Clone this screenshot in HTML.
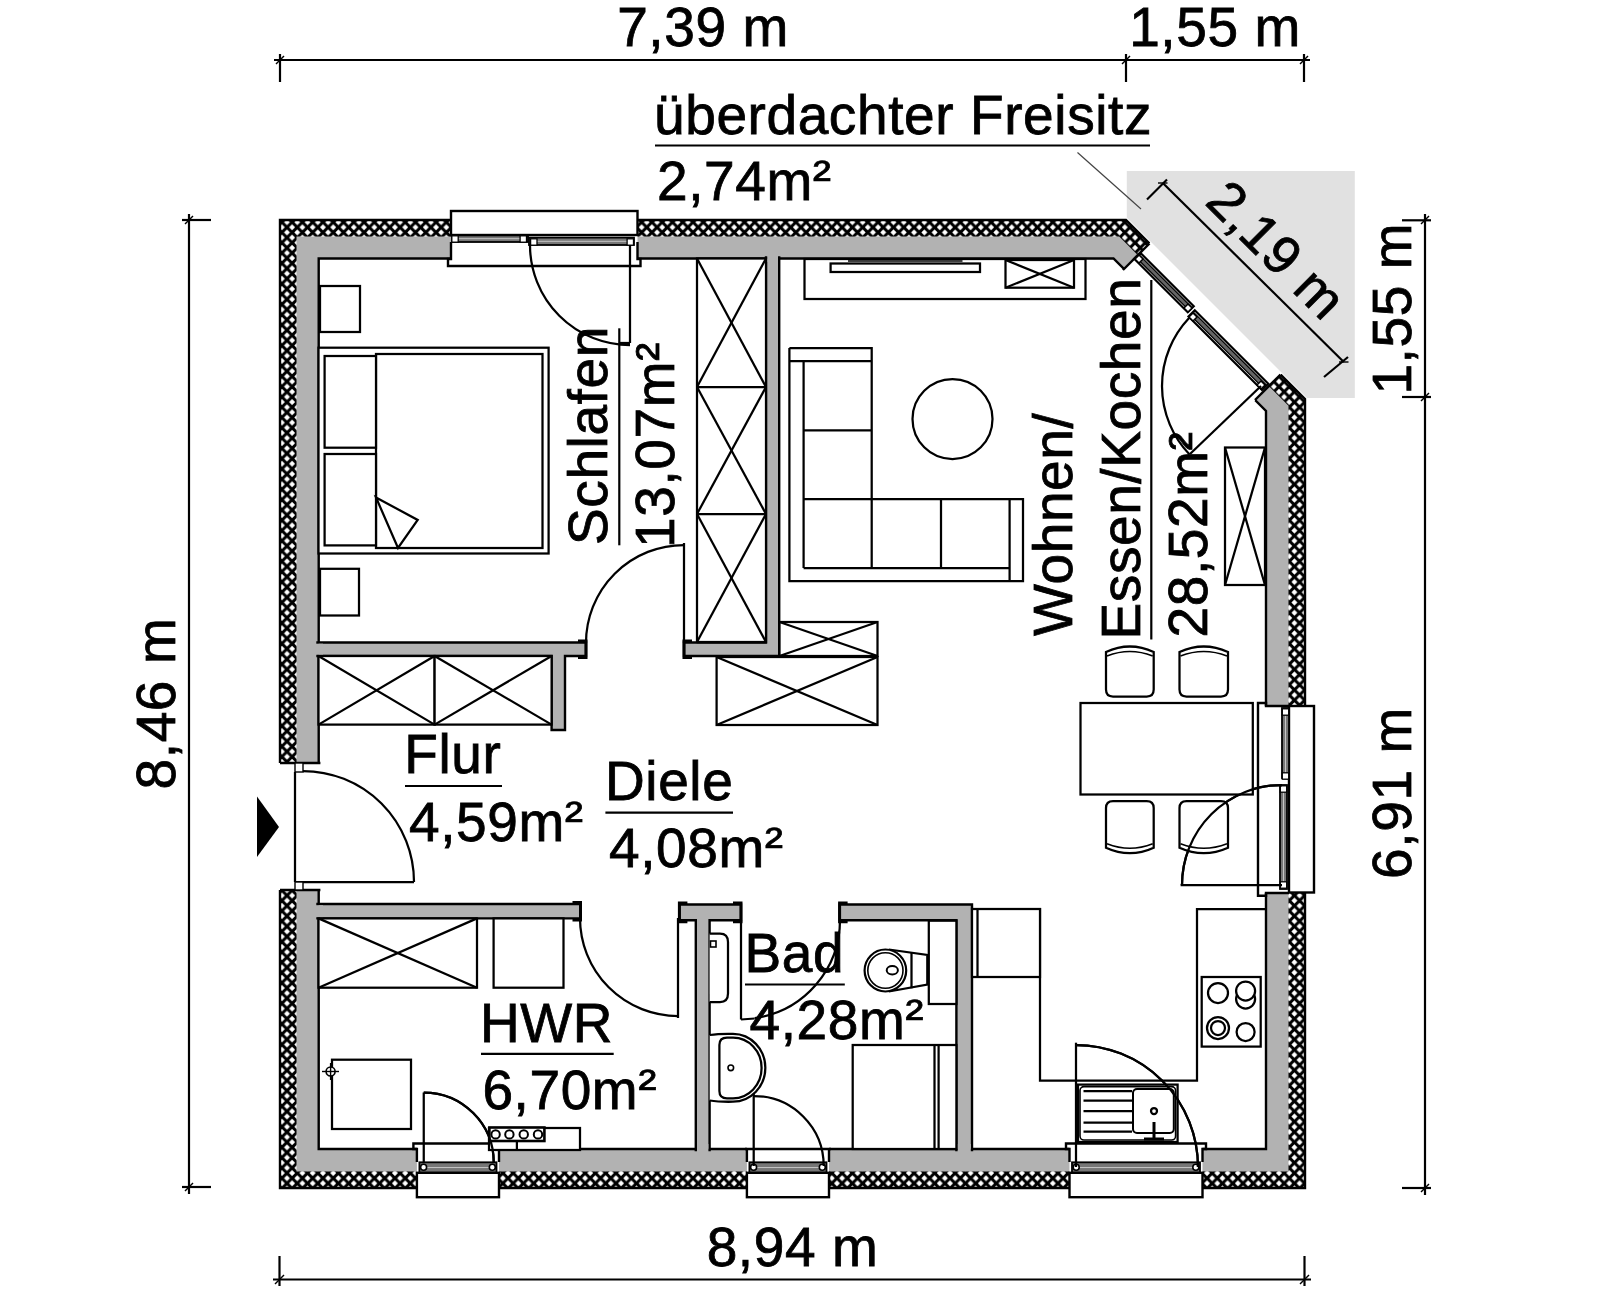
<!DOCTYPE html>
<html><head><meta charset="utf-8"><style>
html,body{margin:0;padding:0;background:#fff;}
svg{display:block;}
text{font-family:"Liberation Sans",sans-serif;fill:#000;stroke:#000;stroke-width:0.8px;letter-spacing:0.6px;}
</style></head><body>
<svg width="1600" height="1300" viewBox="0 0 1600 1300">
<defs>
<pattern id="hatch" patternUnits="userSpaceOnUse" x="4.28" y="1.14" width="10.28" height="10.28">
<rect width="10.28" height="10.28" fill="#000"/>
<path d="M5.14,2.19 L8.09,5.14 L5.14,8.09 L2.19,5.14Z M0.00,-2.95 L2.95,0.00 L0.00,2.95 L-2.95,0.00Z M10.28,-2.95 L13.23,0.00 L10.28,2.95 L7.33,0.00Z M0.00,7.33 L2.95,10.28 L0.00,13.23 L-2.95,10.28Z M10.28,7.33 L13.23,10.28 L10.28,13.23 L7.33,10.28Z " fill="#fff"/>
</pattern>
</defs>
<polygon points="280.00,220.00 1126.00,220.00 1305.00,399.00 1305.00,1188.00 280.00,1188.00" fill="url(#hatch)" stroke="none" stroke-width="0" />
<polygon points="296.50,236.50 1119.20,236.50 1288.50,405.80 1288.50,1171.50 296.50,1171.50" fill="#b2b2b2" stroke="none" stroke-width="0" />
<polygon points="318.70,258.50 1113.50,258.50 1266.00,411.00 1266.00,1149.00 318.70,1149.00" fill="#fff" stroke="none" stroke-width="0" />
<polygon points="280.00,220.00 1126.00,220.00 1305.00,399.00 1305.00,1188.00 280.00,1188.00" fill="none" stroke="#000" stroke-width="2.4" />
<polygon points="318.70,258.50 1113.50,258.50 1266.00,411.00 1266.00,1149.00 318.70,1149.00" fill="none" stroke="#000" stroke-width="2.4" />
<rect x="451.00" y="205.00" width="186.50" height="56.00" fill="#fff" stroke="none" stroke-width="0"/>
<rect x="1262.00" y="706.00" width="48.00" height="187.00" fill="#fff" stroke="none" stroke-width="0"/>
<rect x="416.90" y="1146.50" width="82.10" height="53.50" fill="#fff" stroke="none" stroke-width="0"/>
<rect x="746.90" y="1146.50" width="82.10" height="53.50" fill="#fff" stroke="none" stroke-width="0"/>
<rect x="1069.50" y="1146.50" width="133.00" height="53.50" fill="#fff" stroke="none" stroke-width="0"/>
<rect x="270.00" y="763.00" width="52.00" height="127.00" fill="#fff" stroke="none" stroke-width="0"/>
<polygon points="1121.00,272.00 1151.00,242.00 1282.00,373.00 1252.00,403.00" fill="#fff" stroke="#fff" stroke-width="0.8" />
<polygon points="1126.80,171.00 1354.80,171.00 1354.80,398.00 1307.00,398.00 1126.80,217.80" fill="#e1e1e1" stroke="none" stroke-width="0" />
<line x1="280.00" y1="763.00" x2="320.40" y2="763.00" stroke="#000" stroke-width="2.4"/>
<line x1="280.00" y1="890.00" x2="320.40" y2="890.00" stroke="#000" stroke-width="2.4"/>
<rect x="451.00" y="211.00" width="186.50" height="24.00" fill="#fff" stroke="#000" stroke-width="2.4"/>
<polyline points="451.00,242.00 451.00,259.00 448.00,259.00 448.00,266.00 640.50,266.00 640.50,259.00 637.50,259.00 637.50,242.00" fill="none" stroke="#000" stroke-width="2.4" />
<rect x="452.00" y="235.40" width="76.00" height="6.60" fill="#777" stroke="#000" stroke-width="1.8"/>
<line x1="453.00" y1="238.70" x2="527.00" y2="238.70" stroke="#cfcfcf" stroke-width="0.9"/>
<rect x="529.00" y="237.60" width="105.00" height="7.40" fill="#777" stroke="#000" stroke-width="1.8"/>
<line x1="530.00" y1="241.30" x2="633.00" y2="241.30" stroke="#cfcfcf" stroke-width="0.9"/>
<rect x="451.80" y="235.80" width="6.40" height="6.40" fill="#fff" stroke="#000" stroke-width="1.3"/>
<rect x="520.10" y="235.80" width="6.40" height="6.40" fill="#fff" stroke="#000" stroke-width="1.3"/>
<rect x="530.60" y="238.80" width="6.40" height="6.40" fill="#fff" stroke="#000" stroke-width="1.3"/>
<rect x="627.10" y="238.80" width="6.40" height="6.40" fill="#fff" stroke="#000" stroke-width="1.3"/>
<polyline points="416.90,1162.00 416.90,1149.00 413.40,1149.00 413.40,1143.50 502.50,1143.50 502.50,1149.00 499.00,1149.00 499.00,1162.00" fill="none" stroke="#000" stroke-width="2.4" />
<rect x="419.40" y="1162.30" width="77.10" height="10.50" fill="#777" stroke="#000" stroke-width="1.8"/>
<line x1="420.40" y1="1167.55" x2="495.50" y2="1167.55" stroke="#cfcfcf" stroke-width="0.9"/>
<rect x="416.90" y="1172.80" width="82.10" height="24.40" fill="#fff" stroke="#000" stroke-width="2.4"/>
<circle cx="423.60" cy="1167.20" r="3.00" fill="#fff" stroke="#000" stroke-width="1.6"/>
<circle cx="492.30" cy="1167.20" r="3.00" fill="#fff" stroke="#000" stroke-width="1.6"/>
<line x1="744.90" y1="1149.00" x2="831.00" y2="1149.00" stroke="#000" stroke-width="2.4"/>
<line x1="746.90" y1="1149.00" x2="746.90" y2="1162.00" stroke="#000" stroke-width="2.4"/>
<line x1="829.00" y1="1149.00" x2="829.00" y2="1162.00" stroke="#000" stroke-width="2.4"/>
<rect x="749.40" y="1162.30" width="77.10" height="10.50" fill="#777" stroke="#000" stroke-width="1.8"/>
<line x1="750.40" y1="1167.55" x2="825.50" y2="1167.55" stroke="#cfcfcf" stroke-width="0.9"/>
<rect x="746.90" y="1172.80" width="82.10" height="24.40" fill="#fff" stroke="#000" stroke-width="2.4"/>
<circle cx="753.60" cy="1167.20" r="3.00" fill="#fff" stroke="#000" stroke-width="1.6"/>
<circle cx="822.30" cy="1167.20" r="3.00" fill="#fff" stroke="#000" stroke-width="1.6"/>
<polyline points="1069.50,1162.00 1069.50,1149.00 1066.00,1149.00 1066.00,1143.50 1206.00,1143.50 1206.00,1149.00 1202.50,1149.00 1202.50,1162.00" fill="none" stroke="#000" stroke-width="2.4" />
<rect x="1072.00" y="1162.30" width="128.00" height="10.50" fill="#777" stroke="#000" stroke-width="1.8"/>
<line x1="1073.00" y1="1167.55" x2="1199.00" y2="1167.55" stroke="#cfcfcf" stroke-width="0.9"/>
<rect x="1069.50" y="1172.80" width="133.00" height="24.40" fill="#fff" stroke="#000" stroke-width="2.4"/>
<circle cx="1076.20" cy="1167.20" r="3.00" fill="#fff" stroke="#000" stroke-width="1.6"/>
<circle cx="1195.80" cy="1167.20" r="3.00" fill="#fff" stroke="#000" stroke-width="1.6"/>
<rect x="1289.00" y="706.00" width="25.00" height="186.50" fill="#fff" stroke="#000" stroke-width="2.4"/>
<polyline points="1289.00,706.00 1266.00,706.00 1266.00,703.00 1258.00,703.00 1258.00,895.70 1266.00,895.70 1266.00,893.00 1289.00,893.00" fill="none" stroke="#000" stroke-width="2.4" />
<rect x="1282.00" y="708.00" width="7.00" height="70.00" fill="#777" stroke="#000" stroke-width="1.8"/>
<line x1="1285.50" y1="709.00" x2="1285.50" y2="777.00" stroke="#cfcfcf" stroke-width="0.9"/>
<rect x="1280.00" y="785.00" width="7.00" height="104.00" fill="#777" stroke="#000" stroke-width="1.8"/>
<line x1="1283.50" y1="786.00" x2="1283.50" y2="888.00" stroke="#cfcfcf" stroke-width="0.9"/>
<rect x="1282.30" y="708.80" width="6.40" height="6.40" fill="#fff" stroke="#000" stroke-width="1.3"/>
<rect x="1282.30" y="772.80" width="6.40" height="6.40" fill="#fff" stroke="#000" stroke-width="1.3"/>
<rect x="1280.30" y="785.80" width="6.40" height="6.40" fill="#fff" stroke="#000" stroke-width="1.3"/>
<rect x="1280.30" y="881.80" width="6.40" height="6.40" fill="#fff" stroke="#000" stroke-width="1.3"/>
<polygon points="1140.25,252.75 1193.75,306.25 1187.75,312.25 1134.25,258.75" fill="#fff" stroke="#000" stroke-width="2.2" />
<polygon points="1139.65,255.35 1191.15,306.85 1188.35,309.65 1136.85,258.15" fill="#666" stroke="#000" stroke-width="1.3" />
<polygon points="1194.75,310.25 1268.25,383.75 1262.00,390.00 1188.50,316.50" fill="#fff" stroke="#000" stroke-width="2.2" />
<polygon points="1194.15,312.85 1265.65,384.35 1262.60,387.40 1191.10,315.90" fill="#666" stroke="#000" stroke-width="1.3" />
<polygon points="1135.00,259.00 1139.00,255.00 1143.00,259.00 1139.00,263.00" fill="#fff" stroke="#000" stroke-width="1.5" />
<polygon points="1184.00,308.00 1188.00,304.00 1192.00,308.00 1188.00,312.00" fill="#fff" stroke="#000" stroke-width="1.5" />
<polygon points="1189.00,317.00 1193.00,313.00 1197.00,317.00 1193.00,321.00" fill="#fff" stroke="#000" stroke-width="1.5" />
<polygon points="1257.00,385.00 1261.00,381.00 1265.00,385.00 1261.00,389.00" fill="#fff" stroke="#000" stroke-width="1.5" />
<line x1="1149.50" y1="243.50" x2="1123.00" y2="270.00" stroke="#000" stroke-width="2.4"/>
<line x1="1280.50" y1="374.50" x2="1255.00" y2="400.00" stroke="#000" stroke-width="2.4"/>
<polygon points="766.00,257.50 779.20,257.50 779.20,656.00 684.00,656.00 684.00,642.50 766.00,642.50" fill="#b2b2b2" stroke="#000" stroke-width="2.4" />
<polygon points="317.50,642.50 586.00,642.50 586.00,656.00 565.00,656.00 565.00,730.00 551.60,730.00 551.60,656.00 317.50,656.00" fill="#b2b2b2" stroke="#000" stroke-width="2.4" />
<polygon points="317.50,904.00 580.50,904.00 580.50,918.40 317.50,918.40" fill="#b2b2b2" stroke="#000" stroke-width="2.4" />
<polygon points="679.40,904.50 741.00,904.50 741.00,920.20 709.60,920.20 709.60,1150.00 695.80,1150.00 695.80,920.20 679.40,920.20" fill="#b2b2b2" stroke="#000" stroke-width="2.4" />
<polygon points="839.60,904.50 972.00,904.50 972.00,1150.00 956.40,1150.00 956.40,920.20 839.60,920.20" fill="#b2b2b2" stroke="#000" stroke-width="2.4" />
<rect x="314.50" y="643.70" width="8.50" height="11.10" fill="#b2b2b2" stroke="none" stroke-width="0"/>
<rect x="314.50" y="905.20" width="8.50" height="12.00" fill="#b2b2b2" stroke="none" stroke-width="0"/>
<rect x="767.20" y="255.00" width="10.80" height="7.00" fill="#b2b2b2" stroke="none" stroke-width="0"/>
<rect x="697.00" y="1144.00" width="11.40" height="8.00" fill="#b2b2b2" stroke="none" stroke-width="0"/>
<rect x="957.60" y="1144.00" width="13.20" height="8.00" fill="#b2b2b2" stroke="none" stroke-width="0"/>
<polyline points="578.00,641.00 586.00,641.00 586.00,657.50 578.00,657.50" fill="none" stroke="#000" stroke-width="3" />
<polyline points="692.00,641.00 684.00,641.00 684.00,657.50 692.00,657.50" fill="none" stroke="#000" stroke-width="3" />
<polyline points="572.50,902.50 580.50,902.50 580.50,919.90 572.50,919.90" fill="none" stroke="#000" stroke-width="3" />
<polyline points="687.40,903.00 679.40,903.00 679.40,921.70 687.40,921.70" fill="none" stroke="#000" stroke-width="3" />
<polyline points="733.00,903.00 741.00,903.00 741.00,921.70 733.00,921.70" fill="none" stroke="#000" stroke-width="3" />
<polyline points="847.60,903.00 839.60,903.00 839.60,921.70 847.60,921.70" fill="none" stroke="#000" stroke-width="3" />
<line x1="295.00" y1="772.00" x2="295.00" y2="882.00" stroke="#000" stroke-width="2.25"/>
<line x1="295.00" y1="882.00" x2="414.00" y2="882.00" stroke="#000" stroke-width="2.25"/>
<path d="M303.00,771.00 A111.00,111.00 0 0 1 414.00,882.00" fill="none" stroke="#000" stroke-width="2.25"/>
<rect x="295.00" y="763.00" width="8.00" height="9.00" fill="#fff" stroke="#000" stroke-width="1.4"/>
<rect x="295.00" y="882.00" width="8.00" height="8.00" fill="#fff" stroke="#000" stroke-width="1.4"/>
<line x1="684.00" y1="543.00" x2="684.00" y2="643.00" stroke="#000" stroke-width="2.25"/>
<path d="M586.00,643.00 A98.00,98.00 0 0 1 684.00,545.00" fill="none" stroke="#000" stroke-width="2.25"/>
<line x1="630.00" y1="245.00" x2="630.00" y2="343.00" stroke="#000" stroke-width="2.25"/>
<line x1="620.00" y1="343.00" x2="630.00" y2="343.00" stroke="#000" stroke-width="2.25"/>
<path d="M630.00,345.00 A100.00,100.00 0 0 1 530.00,245.00" fill="none" stroke="#000" stroke-width="2.25"/>
<line x1="678.00" y1="918.00" x2="678.00" y2="1018.00" stroke="#000" stroke-width="2.25"/>
<path d="M678.00,1016.00 A98.00,98.00 0 0 1 580.00,918.00" fill="none" stroke="#000" stroke-width="2.25"/>
<line x1="741.00" y1="920.00" x2="741.00" y2="1019.50" stroke="#000" stroke-width="2.25"/>
<line x1="741.00" y1="1019.50" x2="754.70" y2="1018.50" stroke="#000" stroke-width="2.25"/>
<path d="M840.00,920.00 A99.00,99.00 0 0 1 754.78,1018.04" fill="none" stroke="#000" stroke-width="2.25"/>
<line x1="423.75" y1="1092.50" x2="423.75" y2="1162.50" stroke="#000" stroke-width="2.25"/>
<path d="M423.75,1092.50 A70.00,70.00 0 0 1 493.75,1162.50" fill="none" stroke="#000" stroke-width="2.25"/>
<line x1="753.70" y1="1092.60" x2="753.70" y2="1166.00" stroke="#000" stroke-width="2.25"/>
<path d="M753.70,1096.00 A70.00,70.00 0 0 1 823.70,1166.00" fill="none" stroke="#000" stroke-width="2.25"/>
<line x1="1076.00" y1="1042.70" x2="1076.00" y2="1167.00" stroke="#000" stroke-width="2.25"/>
<path d="M1076.00,1045.00 A122.00,122.00 0 0 1 1198.00,1167.00" fill="none" stroke="#000" stroke-width="2.25"/>
<line x1="1180.60" y1="885.00" x2="1282.00" y2="885.00" stroke="#000" stroke-width="2.25"/>
<path d="M1182.00,885.00 A100.00,100.00 0 0 1 1282.00,785.00" fill="none" stroke="#000" stroke-width="2.25"/>
<line x1="1261.00" y1="386.00" x2="1190.00" y2="454.00" stroke="#000" stroke-width="2.25"/>
<path d="M1189.55,454.52 A99.00,99.00 0 0 1 1189.07,317.98" fill="none" stroke="#000" stroke-width="2.25"/>
<rect x="320.00" y="286.00" width="40.00" height="46.00" fill="#fff" stroke="#000" stroke-width="2.25"/>
<rect x="320.00" y="568.80" width="39.00" height="46.70" fill="#fff" stroke="#000" stroke-width="2.25"/>
<rect x="318.50" y="347.70" width="230.10" height="205.80" fill="#fff" stroke="#000" stroke-width="2.25"/>
<rect x="376.00" y="354.00" width="166.50" height="194.00" fill="#fff" stroke="#000" stroke-width="2.25"/>
<rect x="324.60" y="356.00" width="51.40" height="91.70" fill="#fff" stroke="#000" stroke-width="2.25"/>
<rect x="324.60" y="454.00" width="51.40" height="91.40" fill="#fff" stroke="#000" stroke-width="2.25"/>
<polygon points="376.00,497.40 417.70,520.00 398.00,548.00" fill="#fff" stroke="#000" stroke-width="2.25" />
<rect x="697.00" y="258.50" width="69.00" height="383.50" fill="#fff" stroke="#000" stroke-width="2.25"/>
<line x1="697.00" y1="258.50" x2="766.00" y2="387.00" stroke="#000" stroke-width="2.25"/>
<line x1="766.00" y1="258.50" x2="697.00" y2="387.00" stroke="#000" stroke-width="2.25"/>
<line x1="697.00" y1="387.00" x2="766.00" y2="387.00" stroke="#000" stroke-width="2.25"/>
<line x1="697.00" y1="387.00" x2="766.00" y2="514.00" stroke="#000" stroke-width="2.25"/>
<line x1="766.00" y1="387.00" x2="697.00" y2="514.00" stroke="#000" stroke-width="2.25"/>
<line x1="697.00" y1="514.00" x2="766.00" y2="514.00" stroke="#000" stroke-width="2.25"/>
<line x1="697.00" y1="514.00" x2="766.00" y2="642.00" stroke="#000" stroke-width="2.25"/>
<line x1="766.00" y1="514.00" x2="697.00" y2="642.00" stroke="#000" stroke-width="2.25"/>
<line x1="697.00" y1="642.00" x2="766.00" y2="642.00" stroke="#000" stroke-width="2.25"/>
<rect x="804.50" y="259.00" width="281.00" height="40.00" fill="#fff" stroke="#000" stroke-width="2.25"/>
<rect x="830.60" y="263.50" width="149.40" height="8.50" fill="#fff" stroke="#000" stroke-width="2.25"/>
<line x1="848.00" y1="261.00" x2="962.50" y2="261.00" stroke="#000" stroke-width="1.5"/>
<rect x="1005.50" y="260.00" width="68.50" height="27.70" fill="#fff" stroke="#000" stroke-width="2.25"/>
<line x1="1005.50" y1="260.00" x2="1074.00" y2="287.70" stroke="#000" stroke-width="2.25"/>
<line x1="1074.00" y1="260.00" x2="1005.50" y2="287.70" stroke="#000" stroke-width="2.25"/>
<polyline points="789.40,348.00 871.70,348.00 871.70,499.00 1023.00,499.00 1023.00,581.00 789.40,581.00 789.40,348.00" fill="none" stroke="#000" stroke-width="2.25" />
<line x1="789.40" y1="361.00" x2="871.70" y2="361.00" stroke="#000" stroke-width="2.25"/>
<line x1="803.60" y1="361.00" x2="803.60" y2="568.00" stroke="#000" stroke-width="2.25"/>
<line x1="803.60" y1="430.30" x2="871.70" y2="430.30" stroke="#000" stroke-width="2.25"/>
<line x1="803.60" y1="499.00" x2="871.70" y2="499.00" stroke="#000" stroke-width="2.25"/>
<line x1="803.60" y1="568.00" x2="1009.60" y2="568.00" stroke="#000" stroke-width="2.25"/>
<line x1="871.70" y1="499.00" x2="871.70" y2="568.00" stroke="#000" stroke-width="2.25"/>
<line x1="941.00" y1="499.00" x2="941.00" y2="568.00" stroke="#000" stroke-width="2.25"/>
<line x1="1009.60" y1="499.00" x2="1009.60" y2="581.00" stroke="#000" stroke-width="2.25"/>
<circle cx="952.50" cy="419.00" r="40.00" fill="#fff" stroke="#000" stroke-width="2.25"/>
<rect x="779.50" y="622.00" width="98.00" height="34.00" fill="#fff" stroke="#000" stroke-width="2.25"/>
<line x1="779.50" y1="622.00" x2="877.50" y2="656.00" stroke="#000" stroke-width="2.25"/>
<line x1="877.50" y1="622.00" x2="779.50" y2="656.00" stroke="#000" stroke-width="2.25"/>
<rect x="716.60" y="657.00" width="160.90" height="68.00" fill="#fff" stroke="#000" stroke-width="2.25"/>
<line x1="716.60" y1="657.00" x2="877.50" y2="725.00" stroke="#000" stroke-width="2.25"/>
<line x1="877.50" y1="657.00" x2="716.60" y2="725.00" stroke="#000" stroke-width="2.25"/>
<rect x="318.50" y="656.00" width="116.10" height="68.60" fill="#fff" stroke="#000" stroke-width="2.25"/>
<line x1="318.50" y1="656.00" x2="434.60" y2="724.60" stroke="#000" stroke-width="2.25"/>
<line x1="434.60" y1="656.00" x2="318.50" y2="724.60" stroke="#000" stroke-width="2.25"/>
<rect x="434.60" y="656.00" width="117.00" height="68.60" fill="#fff" stroke="#000" stroke-width="2.25"/>
<line x1="434.60" y1="656.00" x2="551.60" y2="724.60" stroke="#000" stroke-width="2.25"/>
<line x1="551.60" y1="656.00" x2="434.60" y2="724.60" stroke="#000" stroke-width="2.25"/>
<rect x="1225.00" y="447.50" width="40.00" height="137.50" fill="#fff" stroke="#000" stroke-width="2.25"/>
<line x1="1225.00" y1="447.50" x2="1265.00" y2="585.00" stroke="#000" stroke-width="2.25"/>
<line x1="1265.00" y1="447.50" x2="1225.00" y2="585.00" stroke="#000" stroke-width="2.25"/>
<rect x="1080.50" y="703.00" width="172.30" height="91.50" fill="#fff" stroke="#000" stroke-width="2.25"/>
<path d="M1106,652 Q1129.85,641 1153.7,652 L1153.7,689.5 Q1153.7,696.5 1146.7,696.5 L1113,696.5 Q1106,696.5 1106,689.5 Z" fill="#fff" stroke="#000" stroke-width="2.25"/>
<path d="M1107,656 Q1129.85,647 1152.7,656" fill="none" stroke="#000" stroke-width="1.6"/>
<path d="M1179.5,652 Q1203.75,641 1228,652 L1228,689.5 Q1228,696.5 1221,696.5 L1186.5,696.5 Q1179.5,696.5 1179.5,689.5 Z" fill="#fff" stroke="#000" stroke-width="2.25"/>
<path d="M1180.5,656 Q1203.75,647 1227,656" fill="none" stroke="#000" stroke-width="1.6"/>
<path d="M1106,847.7 Q1129.85,858.7 1153.7,847.7 L1153.7,808 Q1153.7,801 1146.7,801 L1113,801 Q1106,801 1106,808 Z" fill="#fff" stroke="#000" stroke-width="2.25"/>
<path d="M1107,843.7 Q1129.85,852.7 1152.7,843.7" fill="none" stroke="#000" stroke-width="1.6"/>
<path d="M1179.5,847.7 Q1203.75,858.7 1228,847.7 L1228,808 Q1228,801 1221,801 L1186.5,801 Q1179.5,801 1179.5,808 Z" fill="#fff" stroke="#000" stroke-width="2.25"/>
<path d="M1180.5,843.7 Q1203.75,852.7 1227,843.7" fill="none" stroke="#000" stroke-width="1.6"/>
<path d="M1182.00,885.00 A100.00,100.00 0 0 1 1282.00,785.00" fill="none" stroke="#000" stroke-width="2.25"/>
<rect x="318.50" y="918.40" width="158.50" height="69.30" fill="#fff" stroke="#000" stroke-width="2.25"/>
<line x1="318.50" y1="918.40" x2="477.00" y2="987.70" stroke="#000" stroke-width="2.25"/>
<line x1="477.00" y1="918.40" x2="318.50" y2="987.70" stroke="#000" stroke-width="2.25"/>
<rect x="493.60" y="918.40" width="69.90" height="69.30" fill="#fff" stroke="#000" stroke-width="2.25"/>
<rect x="332.00" y="1059.70" width="79.00" height="69.30" fill="#fff" stroke="#000" stroke-width="2.25"/>
<circle cx="330.60" cy="1071.50" r="4.50" fill="#fff" stroke="#000" stroke-width="1.6"/>
<line x1="322.00" y1="1071.50" x2="339.00" y2="1071.50" stroke="#000" stroke-width="1.4"/>
<line x1="330.60" y1="1063.00" x2="330.60" y2="1080.00" stroke="#000" stroke-width="1.4"/>
<rect x="489.00" y="1128.00" width="91.00" height="22.00" fill="#fff" stroke="#000" stroke-width="2.25"/>
<line x1="516.90" y1="1141.00" x2="516.90" y2="1150.00" stroke="#000" stroke-width="2.25"/>
<rect x="489.40" y="1127.50" width="55.00" height="13.50" fill="#fff" stroke="#000" stroke-width="2.6"/>
<circle cx="495.60" cy="1134.40" r="4.20" fill="#fff" stroke="#000" stroke-width="2.0"/>
<circle cx="509.40" cy="1134.40" r="4.20" fill="#fff" stroke="#000" stroke-width="2.0"/>
<circle cx="523.75" cy="1134.40" r="4.20" fill="#fff" stroke="#000" stroke-width="2.0"/>
<circle cx="538.00" cy="1134.40" r="4.20" fill="#fff" stroke="#000" stroke-width="2.0"/>
<path d="M423.75,1092.50 A70.00,70.00 0 0 1 493.75,1162.50" fill="none" stroke="#000" stroke-width="2.25"/>
<path d="M709.6,933.5 H720 Q728,933.5 728,942 V993.5 Q728,1002 720,1002 H709.6" fill="#fff" stroke="#000" stroke-width="2.25"/>
<rect x="710.50" y="941.00" width="5.50" height="6.00" fill="#fff" stroke="#000" stroke-width="1.6"/>
<path d="M709.7,1035 Q719,1033.6 733,1033.9 A32.4,33.9 0 0 1 733,1101.7 Q719,1102 709.7,1100.5" fill="#fff" stroke="#000" stroke-width="2.25"/>
<path d="M719.4,1045 Q719.4,1037.7 727,1037.7 H733 A28.6,30.3 0 0 1 733,1098.3 H727 Q719.4,1098.3 719.4,1091 Z" fill="none" stroke="#000" stroke-width="2.25"/>
<circle cx="730.80" cy="1067.80" r="2.80" fill="#fff" stroke="#000" stroke-width="1.6"/>
<rect x="928.80" y="920.70" width="27.60" height="83.30" fill="#fff" stroke="#000" stroke-width="2.25"/>
<path d="M888.8,949.5 L927.3,955 L927.3,984.6 L888.8,991.5" fill="#fff" stroke="#000" stroke-width="2.25"/>
<line x1="911.50" y1="952.50" x2="911.50" y2="988.30" stroke="#000" stroke-width="2.25"/>
<ellipse cx="885.4" cy="970.5" rx="20.8" ry="21" fill="#fff" stroke="#000" stroke-width="2.2"/>
<ellipse cx="885.4" cy="970.5" rx="17.6" ry="17.8" fill="none" stroke="#000" stroke-width="1.6"/>
<ellipse cx="892.3" cy="970.2" rx="5.6" ry="4.2" fill="none" stroke="#000" stroke-width="2"/>
<rect x="852.70" y="1045.00" width="103.70" height="104.00" fill="#fff" stroke="#000" stroke-width="2.25"/>
<line x1="934.50" y1="1045.00" x2="934.50" y2="1149.00" stroke="#000" stroke-width="2.25"/>
<line x1="938.60" y1="1045.00" x2="938.60" y2="1149.00" stroke="#000" stroke-width="2.25"/>
<polyline points="972.00,909.00 1040.00,909.00 1040.00,1080.60 1197.00,1080.60 1197.00,909.00 1266.00,909.00" fill="none" stroke="#000" stroke-width="2.25" />
<rect x="972.00" y="909.00" width="68.00" height="68.00" fill="#fff" stroke="#000" stroke-width="2.25"/>
<line x1="977.50" y1="909.00" x2="977.50" y2="977.00" stroke="#000" stroke-width="2.25"/>
<rect x="1201.70" y="977.00" width="59.00" height="69.60" fill="#fff" stroke="#000" stroke-width="2.25"/>
<circle cx="1218.00" cy="993.00" r="10.00" fill="none" stroke="#000" stroke-width="2.25"/>
<circle cx="1245.60" cy="999.00" r="9.50" fill="none" stroke="#000" stroke-width="2.25"/>
<circle cx="1245.60" cy="991.00" r="9.50" fill="#fff" stroke="#000" stroke-width="2.25"/>
<circle cx="1218.00" cy="1028.00" r="11.00" fill="none" stroke="#000" stroke-width="2.25"/>
<circle cx="1218.00" cy="1028.00" r="7.00" fill="none" stroke="#000" stroke-width="2.25"/>
<circle cx="1245.60" cy="1032.00" r="9.00" fill="none" stroke="#000" stroke-width="2.25"/>
<rect x="1078.00" y="1084.60" width="99.60" height="57.40" fill="#fff" stroke="#000" stroke-width="2.25"/>
<rect x="1080" y="1086.6" width="95.6" height="53.4" rx="4" fill="none" stroke="#000" stroke-width="1.6"/>
<line x1="1083.50" y1="1091.00" x2="1132.00" y2="1091.00" stroke="#000" stroke-width="2.25"/>
<line x1="1083.50" y1="1100.50" x2="1132.00" y2="1100.50" stroke="#000" stroke-width="2.25"/>
<line x1="1083.50" y1="1111.00" x2="1132.00" y2="1111.00" stroke="#000" stroke-width="2.25"/>
<line x1="1083.50" y1="1122.50" x2="1132.00" y2="1122.50" stroke="#000" stroke-width="2.25"/>
<line x1="1083.50" y1="1131.60" x2="1132.00" y2="1131.60" stroke="#000" stroke-width="2.25"/>
<rect x="1133" y="1089" width="40.8" height="44" rx="4" fill="#fff" stroke="#000" stroke-width="2"/>
<circle cx="1154.00" cy="1111.00" r="3.00" fill="none" stroke="#000" stroke-width="2.25"/>
<line x1="1154.00" y1="1122.00" x2="1154.00" y2="1138.00" stroke="#000" stroke-width="3"/>
<line x1="1144.00" y1="1139.00" x2="1164.00" y2="1139.00" stroke="#000" stroke-width="3"/>
<path d="M1076.00,1045.00 A122.00,122.00 0 0 1 1198.00,1167.00" fill="none" stroke="#000" stroke-width="2.25"/>
<g stroke="#000" stroke-width="2.2" fill="none">
<line x1="274" y1="60" x2="1310" y2="60"/>
<line x1="280" y1="54" x2="280" y2="82"/><line x1="276" y1="64" x2="284" y2="56" stroke-width="1.4"/>
<line x1="1126" y1="54" x2="1126" y2="82"/><line x1="1122" y1="64" x2="1130" y2="56" stroke-width="1.4"/>
<line x1="1304" y1="54" x2="1304" y2="82"/><line x1="1300" y1="64" x2="1308" y2="56" stroke-width="1.4"/>
<line x1="189" y1="214" x2="189" y2="1194"/>
<line x1="182" y1="220" x2="211" y2="220"/><line x1="185" y1="224" x2="193" y2="216" stroke-width="1.4"/>
<line x1="182" y1="1187" x2="211" y2="1187"/><line x1="185" y1="1191" x2="193" y2="1183" stroke-width="1.4"/>
<line x1="1425" y1="214" x2="1425" y2="1195"/>
<line x1="1402" y1="220.3" x2="1431" y2="220.3"/><line x1="1421" y1="224" x2="1429" y2="216" stroke-width="1.4"/>
<line x1="1402" y1="397" x2="1431" y2="397"/><line x1="1421" y1="401" x2="1429" y2="393" stroke-width="1.4"/>
<line x1="1402" y1="1188" x2="1431" y2="1188"/><line x1="1421" y1="1192" x2="1429" y2="1184" stroke-width="1.4"/>
<line x1="273" y1="1279.5" x2="1311" y2="1279.5"/>
<line x1="279.5" y1="1256" x2="279.5" y2="1286"/><line x1="275" y1="1284" x2="284" y2="1275" stroke-width="1.4"/>
<line x1="1304.5" y1="1256" x2="1304.5" y2="1286"/><line x1="1300" y1="1284" x2="1309" y2="1275" stroke-width="1.4"/>
<!-- diagonal dim -->
<line x1="1162.8" y1="183" x2="1343.8" y2="362"/>
<line x1="1147" y1="199.5" x2="1167" y2="179.5"/><line x1="1158" y1="183" x2="1167.5" y2="183" stroke-width="1.4"/>
<line x1="1324" y1="377" x2="1348" y2="357"/><line x1="1339" y1="362" x2="1348.5" y2="362" stroke-width="1.4"/>
<!-- underlines -->
<line x1="655" y1="145.5" x2="1150" y2="145.5"/>
<line x1="405" y1="786" x2="502" y2="786"/>
<line x1="605.4" y1="812.7" x2="733" y2="812.7"/>
<line x1="481" y1="1053.8" x2="613.7" y2="1053.8"/>
<line x1="745" y1="984.5" x2="844.8" y2="984.5"/>
<line x1="619.3" y1="328.3" x2="619.3" y2="545.3"/>
<line x1="1151.3" y1="280" x2="1151.3" y2="639.6"/>
<!-- leader -->
<line x1="1077.5" y1="152.5" x2="1141" y2="209" stroke-width="1.2" stroke="#444"/>
</g>
<polygon points="257,796.6 279,827 257,857" fill="#000"/>
<g font-size="55">
<text x="703" y="46" text-anchor="middle" letter-spacing="0">7,39 m</text>
<text x="1215" y="46" text-anchor="middle" letter-spacing="0">1,55 m</text>
<text x="792.5" y="1266" text-anchor="middle" letter-spacing="0">8,94 m</text>
<text x="175.4" y="703.5" text-anchor="middle" transform="rotate(-90 175.4 703.5)" letter-spacing="0">8,46 m</text>
<text x="1410.8" y="308.7" text-anchor="middle" transform="rotate(-90 1410.8 308.7)" letter-spacing="0">1,55 m</text>
<text x="1410.8" y="793" text-anchor="middle" transform="rotate(-90 1410.8 793)" letter-spacing="0">6,91 m</text>
<text x="1263.5" y="263" font-size="54" text-anchor="middle" transform="rotate(45 1263.5 263)" letter-spacing="0">2,19 m</text>
<text x="654" y="134">überdachter Freisitz</text>
<text x="657" y="200">2,74m</text><text transform="translate(812.86 194.30) scale(1 0.88)" x="0" y="0">²</text>
<text x="404.3" y="773">Flur</text>
<text x="409" y="840.5">4,59m</text><text transform="translate(564.86 834.80) scale(1 0.88)" x="0" y="0">²</text>
<text x="605" y="799.8">Diele</text>
<text x="609" y="867">4,08m</text><text transform="translate(764.86 861.30) scale(1 0.88)" x="0" y="0">²</text>
<text x="480" y="1041.5">HWR</text>
<text x="482.4" y="1109">6,70m</text><text transform="translate(638.26 1103.30) scale(1 0.88)" x="0" y="0">²</text>
<text x="744.5" y="972">Bad</text>
<text x="749.5" y="1039">4,28m</text><text transform="translate(905.36 1033.30) scale(1 0.88)" x="0" y="0">²</text>
<text x="606.5" y="545" transform="rotate(-90 606.5 545)" letter-spacing="0">Schlafen</text>
<text x="674" y="548" transform="rotate(-90 674 548)">13,07m²</text>
<text x="1072" y="636" transform="rotate(-90 1072 636)">Wohnen/</text>
<text x="1139.5" y="639.5" transform="rotate(-90 1139.5 639.5)">Essen/Kochen</text>
<text x="1206.5" y="637.5" transform="rotate(-90 1206.5 637.5)">28,52m²</text>
</g>

</svg>
</body></html>
